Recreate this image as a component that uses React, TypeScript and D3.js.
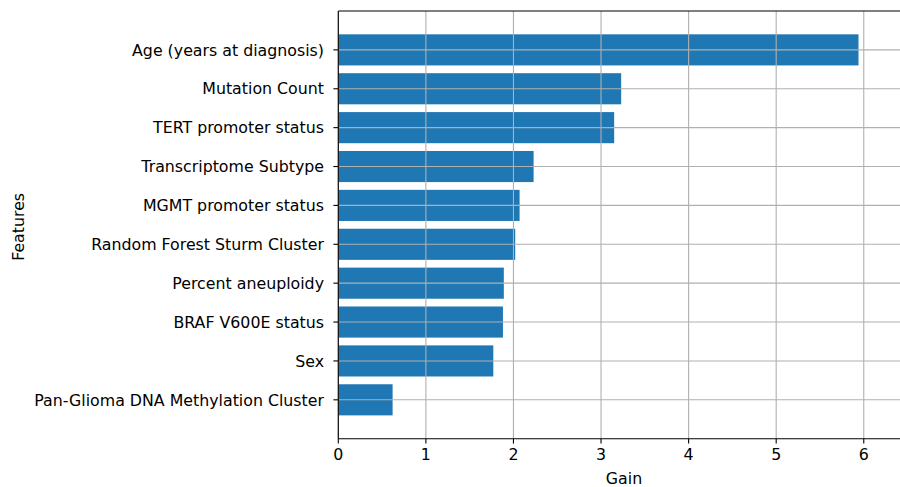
import { useEffect, useRef } from "react"
import * as d3 from "d3"

const features = [
  "Age (years at diagnosis)",
  "Mutation Count",
  "TERT promoter status",
  "Transcriptome Subtype",
  "MGMT promoter status",
  "Random Forest Sturm Cluster",
  "Percent aneuploidy",
  "BRAF V600E status",
  "Sex",
  "Pan-Glioma DNA Methylation Cluster"
]
const gains = [5.94, 3.23, 3.15, 2.23, 2.07, 2.02, 1.89, 1.88, 1.77, 0.62]
const xTicks = [0, 1, 2, 3, 4, 5, 6]

const W = 900
const H = 487
const font = "DejaVu Sans, sans-serif"

const App = () => {
  const svgRef = useRef<SVGSVGElement | null>(null)

  useEffect(() => {
    const left = 338.3
    const right = 910
    const top = 11
    const bottom = 438.7

    const x = d3.scaleLinear().domain([0, 6.528]).range([left, right])
    const y = d3.scaleLinear().domain([-1, 10]).range([top, bottom])
    const bandH = (y(1) - y(0)) * 0.8

    const svg = d3.select(svgRef.current)
    svg.selectAll("*").remove()

    // bars
    svg.append("g")
      .selectAll("rect")
      .data(gains)
      .enter()
      .append("rect")
      .attr("x", x(0))
      .attr("y", (_, i) => y(i) - bandH / 2)
      .attr("width", d => x(d) - x(0))
      .attr("height", bandH)
      .attr("fill", "#1f77b4")

    // grid on top of bars
    const grid = svg.append("g")
      .attr("stroke", "#b0b0b0")
      .attr("stroke-width", 1.1)
    grid.selectAll("line.vx")
      .data(xTicks)
      .enter()
      .append("line")
      .attr("x1", d => x(d)).attr("x2", d => x(d))
      .attr("y1", top).attr("y2", bottom)
    grid.selectAll("line.hy")
      .data(features)
      .enter()
      .append("line")
      .attr("x1", left).attr("x2", right)
      .attr("y1", (_, i) => y(i)).attr("y2", (_, i) => y(i))

    // spines
    const spines = svg.append("g")
      .attr("stroke", "#000")
      .attr("stroke-width", 1.1)
      .attr("fill", "none")
    spines.append("line").attr("x1", left).attr("x2", left).attr("y1", top).attr("y2", bottom)
    spines.append("line").attr("x1", left).attr("x2", right).attr("y1", top).attr("y2", top)
    spines.append("line").attr("x1", left).attr("x2", right).attr("y1", bottom).attr("y2", bottom)

    // x ticks
    const xt = svg.append("g")
    xTicks.forEach(t => {
      xt.append("line")
        .attr("x1", x(t)).attr("x2", x(t))
        .attr("y1", bottom).attr("y2", bottom + 4.9)
        .attr("stroke", "#000").attr("stroke-width", 1.1)
      xt.append("text")
        .attr("x", x(t))
        .attr("y", bottom + 9.5)
        .attr("dy", "0.76em")
        .attr("text-anchor", "middle")
        .attr("font-family", font)
        .attr("font-size", 15.8)
        .attr("fill", "#000")
        .text(String(t))
    })

    // y ticks
    const yt = svg.append("g")
    features.forEach((f, i) => {
      yt.append("line")
        .attr("x1", left - 4.9).attr("x2", left)
        .attr("y1", y(i)).attr("y2", y(i))
        .attr("stroke", "#000").attr("stroke-width", 1.1)
      yt.append("text")
        .attr("x", 324)
        .attr("y", y(i))
        .attr("dy", "0.36em")
        .attr("text-anchor", "end")
        .attr("font-family", font)
        .attr("font-size", 15.8)
        .attr("fill", "#000")
        .text(f)
    })

    // axis labels
    svg.append("text")
      .attr("x", 624)
      .attr("y", 483.5)
      .attr("text-anchor", "middle")
      .attr("font-family", font)
      .attr("font-size", 15.8)
      .text("Gain")

    svg.append("text")
      .attr("transform", `translate(24,${(top + bottom) / 2 + 2}) rotate(-90)`)
      .attr("text-anchor", "middle")
      .attr("font-family", font)
      .attr("font-size", 15.8)
      .text("Features")
  }, [])

  return (
    <svg
      ref={svgRef}
      width={W}
      height={H}
      style={{ position: "absolute", left: 0, top: 0, background: "#fff" }}
    ></svg>
  )
}

export default App
